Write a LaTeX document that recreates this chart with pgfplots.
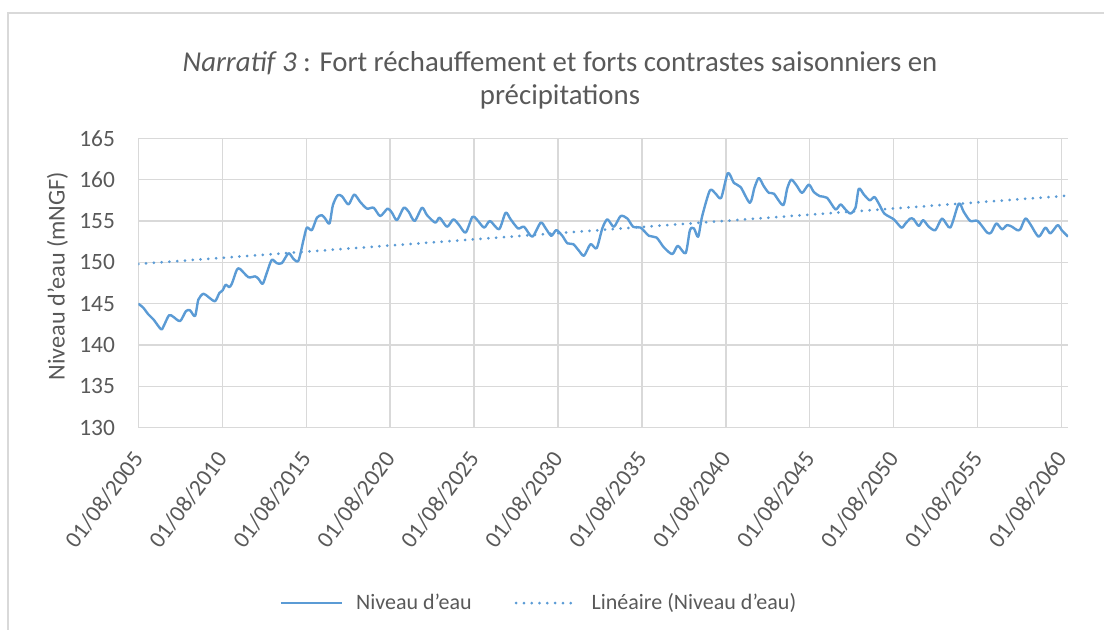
\documentclass[border=0pt]{standalone}
\usepackage{fontspec}
\setmainfont{Carlito}
\usepackage{pgfplots}
\pgfplotsset{compat=1.18}
\definecolor{serie}{HTML}{5B9BD5}
\definecolor{grille}{HTML}{D9D9D9}
\definecolor{texte}{HTML}{595959}

\begin{document}
\begin{tikzpicture}
% cadre de la page, en pixels de la capture (origine en haut a gauche, 1 px = 0.5 pt)
\begin{scope}[x=0.5pt, y=-0.5pt]
\path[use as bounding box] (0,0) rectangle (1104,630);
\draw[grille, line width=0.8pt] (8,640) -- (8,13) -- (1115,13);

% titre sur deux lignes
\node[anchor=base, text=texte, font=\fontsize{14.4}{17}\selectfont, inner sep=0pt]
  at (560,72) {\textit{Narratif 3} : Fort réchauffement et forts contrastes saisonniers en};
\node[anchor=base, text=texte, font=\fontsize{14.4}{17}\selectfont, inner sep=0pt]
  at (560,105) {précipitations};

% titre de l'axe vertical
\node[rotate=90, text=texte, font=\fontsize{12.1}{14}\selectfont, inner sep=0pt]
  at (57.5,276) {Niveau d'eau (mNGF)};
\end{scope}

\begin{axis}[
    at={(69.15pt,-213.85pt)}, anchor=south west,
    scale only axis,
    width=464.85pt, height=144.7pt,
    xmin=2005.58, xmax=2060.96,
    ymin=130, ymax=165,
    axis line style={draw=none},
    major tick length=0pt,
    grid=major,
    major grid style={grille, line width=0.65pt},
    xtick={2005.58,2010.58,2015.58,2020.58,2025.58,2030.58,2035.58,2040.58,2045.58,2050.58,2055.58,2060.58},
    xticklabels={01/08/2005,01/08/2010,01/08/2015,01/08/2020,01/08/2025,01/08/2030,
                 01/08/2035,01/08/2040,01/08/2045,01/08/2050,01/08/2055,01/08/2060},
    ytick={130,135,140,145,150,155,160,165},
    /pgf/number format/assume math mode=true,
    tick label style={text=texte, font=\fontsize{11.7}{14}\selectfont},
    yticklabel style={inner sep=0pt, xshift=-11.5pt},
    xticklabel style={yshift=-13.4pt, xshift=0pt, rotate=53, anchor=east, inner sep=0pt},
    legend columns=2,
    legend style={
        at={(0.432,-0.606)}, anchor=center,
        draw=none, fill=none,
        font=\fontsize{11}{13}\selectfont, text=texte,
        /tikz/every odd column/.append style={column sep=4.5pt},
        /tikz/every even column/.append style={column sep=19.5pt},
    },
    legend cell align=left,
    legend image code/.code={\draw[#1] (0pt,0pt) -- (30.5pt,0pt);},
]
% Niveau d'eau
\addplot[serie, line width=1.2pt, smooth, tension=0.45, line join=round] coordinates {
(2005.58,145.0) (2005.88,144.5) (2006.18,143.7) (2006.48,143.1) (2006.93,141.9)
(2007.07,142.2) (2007.41,143.6) (2007.67,143.4) (2008.07,142.9) (2008.42,144.1)
(2008.66,144.2) (2008.96,143.5) (2009.16,145.5) (2009.46,146.2) (2009.76,145.8)
(2010.15,145.3) (2010.41,146.3) (2010.60,146.6) (2010.79,147.3) (2010.99,147.0)
(2011.15,147.4) (2011.45,149.1) (2011.64,149.2) (2012.14,148.2) (2012.54,148.3)
(2012.74,148.0) (2012.99,147.4) (2013.23,148.7) (2013.53,150.3) (2013.83,149.9)
(2014.13,149.9) (2014.53,151.1) (2014.83,150.4) (2015.12,150.2) (2015.42,152.7)
(2015.62,154.2) (2015.92,153.9) (2016.22,155.4) (2016.51,155.7) (2016.71,155.3)
(2016.97,154.7) (2017.17,156.9) (2017.45,158.1) (2017.71,158.0) (2018.10,157.0)
(2018.44,158.2) (2018.80,157.3) (2019.20,156.5) (2019.60,156.6) (2019.99,155.6)
(2020.43,156.5) (2020.69,156.0) (2020.99,155.1) (2021.39,156.6) (2021.69,156.1)
(2022.04,155.0) (2022.48,156.6) (2022.78,155.7) (2023.27,154.8) (2023.53,155.4)
(2023.97,154.3) (2024.35,155.2) (2024.69,154.5) (2025.08,153.6) (2025.48,155.5)
(2025.74,155.2) (2026.18,154.2) (2026.53,155.0) (2027.07,154.0) (2027.46,156.0)
(2027.76,155.2) (2028.20,154.1) (2028.56,154.3) (2029.05,153.1) (2029.55,154.8)
(2029.85,154.1) (2030.18,153.2) (2030.48,153.9) (2030.84,153.2) (2031.14,152.3)
(2031.49,152.2) (2031.83,151.4) (2032.13,150.8) (2032.52,152.2) (2032.88,151.7)
(2033.22,154.1) (2033.52,155.2) (2033.91,154.3) (2034.31,155.6) (2034.71,155.3)
(2035.06,154.3) (2035.50,154.2) (2036.00,153.2) (2036.45,153.0) (2036.89,151.8)
(2037.39,151.0) (2037.72,152.0) (2038.18,151.1) (2038.44,153.9) (2038.68,154.1)
(2038.93,153.1) (2039.17,155.6) (2039.63,158.7) (2039.97,158.3) (2040.30,157.8)
(2040.70,160.8) (2041.06,159.6) (2041.46,159.1) (2042.01,157.2) (2042.28,159.0)
(2042.54,160.2) (2042.84,159.2) (2043.14,158.4) (2043.44,158.3) (2043.99,156.9)
(2044.23,158.9) (2044.47,160.0) (2044.79,159.3) (2045.12,158.4) (2045.52,159.4)
(2045.82,158.5) (2046.18,158.0) (2046.61,157.8) (2047.11,156.4) (2047.41,157.0)
(2047.70,156.4) (2048.00,155.9) (2048.30,156.6) (2048.50,158.9) (2048.80,158.2)
(2049.15,157.5) (2049.43,157.9) (2049.69,157.1) (2050.02,155.9) (2050.58,155.2)
(2051.04,154.2) (2051.28,154.7) (2051.57,155.3) (2051.77,155.2) (2052.07,154.4)
(2052.33,155.1) (2052.67,154.3) (2053.06,153.9) (2053.46,155.3) (2053.95,154.2)
(2054.45,157.1) (2054.75,156.1) (2055.14,155.0) (2055.58,155.0) (2056.14,153.6)
(2056.38,153.6) (2056.69,154.7) (2057.03,154.0) (2057.33,154.5) (2057.63,154.3)
(2057.92,153.9) (2058.12,154.0) (2058.42,155.3) (2058.72,154.6) (2059.21,153.1)
(2059.61,154.2) (2059.91,153.5) (2060.34,154.5) (2060.58,153.9) (2060.96,153.1)
};
\addlegendentry{Niveau d'eau}
% tendance lineaire
\addplot[serie, line width=1.5pt, line cap=round, dash pattern=on 0pt off 3.9pt] coordinates {
(2005.58,149.8) (2060.96,158.06)
};
\addlegendentry{Linéaire (Niveau d'eau)}
\end{axis}
\end{tikzpicture}
\end{document}
